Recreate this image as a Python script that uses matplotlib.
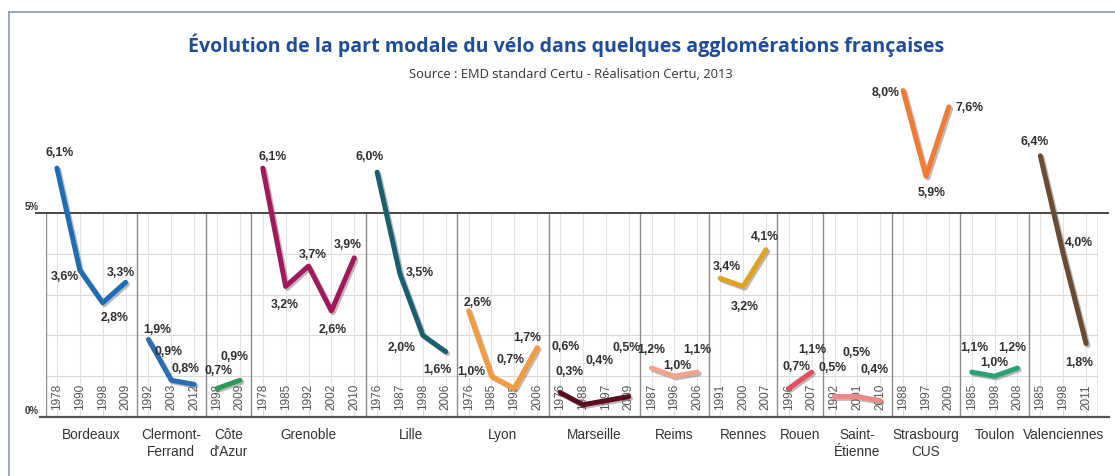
import matplotlib
matplotlib.use("Agg")
import matplotlib.pyplot as plt
import matplotlib.patheffects as pe
from matplotlib import font_manager
from matplotlib.lines import Line2D

# ---------------- data ----------------
cities = ["Bordeaux", "Clermont-\nFerrand", "Côte\nd'Azur", "Grenoble", "Lille",
          "Lyon", "Marseille", "Reims", "Rennes", "Rouen", "Saint-\nÉtienne",
          "Strasbourg\nCUS", "Toulon", "Valenciennes"]

years = [[1978, 1990, 1998, 2009],
         [1992, 2003, 2012],
         [1998, 2009],
         [1978, 1985, 1992, 2002, 2010],
         [1976, 1987, 1998, 2006],
         [1976, 1985, 1995, 2006],
         [1976, 1988, 1997, 2009],
         [1987, 1996, 2006],
         [1991, 2000, 2007],
         [1996, 2007],
         [1992, 2001, 2010],
         [1988, 1997, 2009],
         [1985, 1998, 2008],
         [1985, 1998, 2011]]

shares = [[6.1, 3.6, 2.8, 3.3],
          [1.9, 0.9, 0.8],
          [0.7, 0.9],
          [6.1, 3.2, 3.7, 2.6, 3.9],
          [6.0, 3.5, 2.0, 1.6],
          [2.6, 1.0, 0.7, 1.7],
          [0.6, 0.3, 0.4, 0.5],
          [1.2, 1.0, 1.1],
          [3.4, 3.2, 4.1],
          [0.7, 1.1],
          [0.5, 0.5, 0.4],
          [8.0, 5.9, 7.6],
          [1.1, 1.0, 1.2],
          [6.4, 4.0, 1.8]]

title = "Évolution de la part modale du vélo dans quelques agglomérations françaises"
subtitle = "Source : EMD standard Certu - Réalisation Certu, 2013"
ref_ticks = [0, 5]
ref_tick_labels = ["0%", "5%"]

# ---------------- style ----------------
line_colors = ["#1f6cb6", "#2a6db5", "#2f9a58", "#a1195c", "#1b5f6e", "#f39b3d",
               "#5a0e20", "#f3a28e", "#e1a224", "#e2505f", "#ef8a84", "#f27b33",
               "#2ba173", "#6a4a30"]

# label offsets in screen pixels (dx to the right, dy downward)
label_offsets = [[(3, -16), (-15, 6), (12, 14), (-5, -10)],
                 [(9, -10), (-3, -29), (-9, -16)],
                 [(1, -18), (-5, -24)],
                 [(10, -12), (-1, 18), (4, -12), (1, 18), (-7, -14)],
                 [(-7, -16), (20, -2), (-21, 12), (-8, 17)],
                 [(9, -9), (-20, -5), (-4, -29), (-10, -11)],
                 [(6, -47), (-13, -34), (-6, -41), (-2, -50)],
                 [(0, -19), (3, -11), (0, -23)],
                 [(7, -12), (2, 20), (-1, -14)],
                 [(8, -22), (1, -23)],
                 [(-2, -30), (-1, -45), (-6, -32)],
                 [(-17, 1), (6, 16), (21, 0)],
                 [(3, -25), (0, -14), (-5, -21)],
                 [(-6, -15), (16, -12), (-7, 18)]]

W, H = 1115, 477
names = {f.name for f in font_manager.fontManager.ttflist}


def pick(cands):
    for c in cands:
        if c in names:
            return c
    return "DejaVu Sans"


body_font = pick(["Liberation Sans", "Arial", "DejaVu Sans"])
title_font = pick(["Open Sans", "Noto Sans", "Liberation Sans"])
plt.rcParams["font.family"] = [body_font, "DejaVu Sans"]

fig = plt.figure(figsize=(W / 100, H / 100), dpi=100)
fig.patch.set_facecolor("white")

x0_px, col_px = 45.5, 22.87
y0_px, pct_px = 418.0, 40.8
ncols = sum(len(y) for y in years)
ymax = 9.0
ax = fig.add_axes([x0_px / W, (H - y0_px) / H, ncols * col_px / W, ymax * pct_px / H])
ax.set_xlim(0, ncols)
ax.set_ylim(0, ymax)
ax.axis("off")

# horizontal grid
for g in range(1, 5):
    ax.plot([0, ncols], [g, g], color="#d9d9d9", lw=0.8, zorder=1)

start = 0
bounds = [0]
for i, city in enumerate(cities):
    n = len(years[i])
    xs = [start + j + 0.5 for j in range(n)]
    for j, x in enumerate(xs):
        ax.plot([x, x], [0, 5], color="#e3e3e3", lw=0.8, zorder=1)
        ax.text(x, 0.2, str(years[i][j]), rotation=90, ha="center", va="bottom",
                fontsize=8.5, color="#555555", zorder=3)
    ax.plot(xs, shares[i], color=line_colors[i], lw=3.6,
            solid_capstyle="round", solid_joinstyle="round", zorder=4,
            path_effects=[pe.SimpleLineShadow(offset=(1.3, -1.3), shadow_color="#666666", alpha=0.45),
                          pe.Normal()])
    for j, (x, v) in enumerate(zip(xs, shares[i])):
        dx, dy = label_offsets[i][j]
        txt = f"{v:.1f}".replace(".", ",") + "%"
        ax.annotate(txt, (x, v), xytext=(dx, -dy), textcoords="offset pixels",
                    ha="center", va="center", fontsize=8.8, fontweight="bold",
                    color="#2e2e2e", zorder=5, annotation_clip=False)
    ax.text(start + n / 2, -0.25, city, ha="center", va="top", fontsize=9.8,
            color="#333333", linespacing=1.3, clip_on=False, multialignment="center")
    start += n
    bounds.append(start)

for b in bounds:
    ax.plot([b, b], [0, 5], color="#8c8c8c", lw=1.0, zorder=2)

# reference lines
ax.plot([-0.42, ncols + 0.46], [5, 5], color="#3a3a3a", lw=1.3, zorder=2, clip_on=False)
ax.plot([-0.25, ncols + 0.5], [0, 0], color="#555555", lw=1.6, zorder=2, clip_on=False)
for t, lab in zip(ref_ticks, ref_tick_labels):
    ax.text(-0.28, t + 0.06, lab, ha="right", va="bottom", fontsize=7, fontweight="bold",
            color="#333333", clip_on=False)

# titles
t1 = fig.text(566.5 / W, 1 - 45 / H, title, ha="center", va="center", color="#1f4e98",
              fontweight="bold", family=[title_font, "DejaVu Sans"], fontsize=14)
t2 = fig.text(571 / W, 1 - 75 / H, subtitle, ha="center", va="center", color="#333333",
              family=[title_font, "DejaVu Sans"], fontsize=8)


def fit(t, target):
    fig.canvas.draw()
    r = fig.canvas.get_renderer()
    w = t.get_window_extent(r).width
    t.set_fontsize(t.get_fontsize() * target / w)


fit(t1, 763)
fit(t2, 323)

# frame
fc = "#8d99ab"
fig.add_artist(Line2D([9 / W, 9 / W], [0, 1 - 13 / H], transform=fig.transFigure, color=fc, lw=1.2))
fig.add_artist(Line2D([9 / W, 1], [1 - 13 / H, 1 - 13 / H], transform=fig.transFigure, color=fc, lw=1.2))

fig.savefig("out.png", dpi=100)
